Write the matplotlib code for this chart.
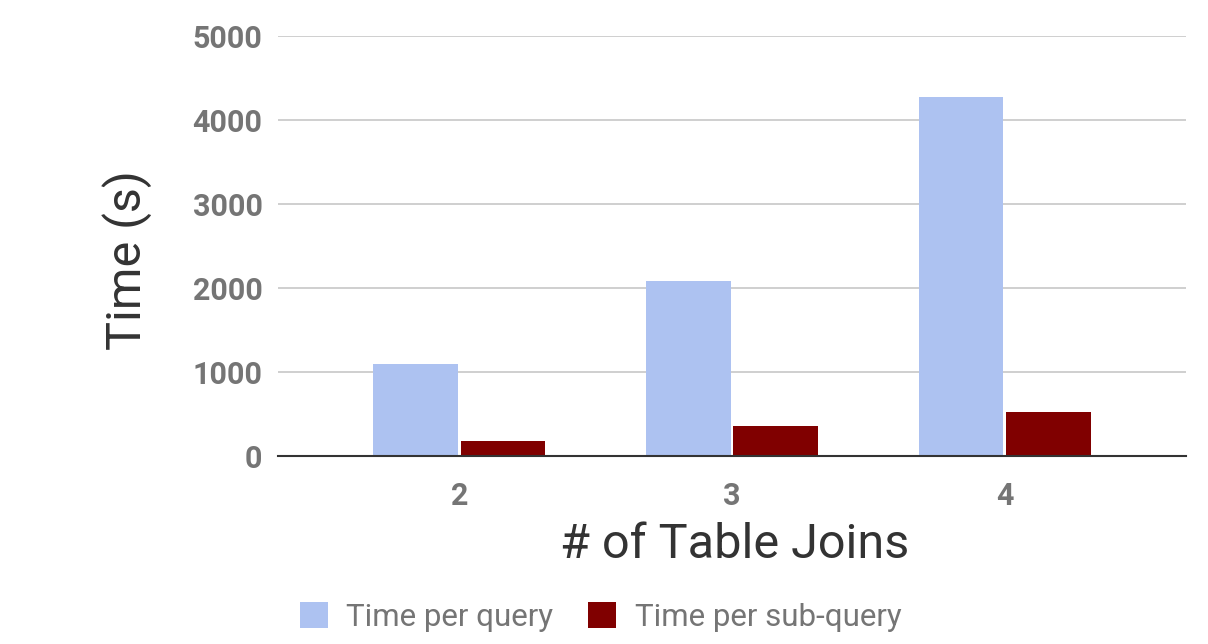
import matplotlib.pyplot as plt
import numpy as np

plt.rcParams['font.family'] = ['Roboto', 'DejaVu Sans']

joins = ['2', '3', '4']
time_per_query = [1095, 2087, 4280]
time_per_subquery = [182, 357, 524]

blue = '#adc2f1'
red = '#800000'
grey = '#757575'

fig = plt.figure(figsize=(12.08, 6.44), dpi=100)
ax = fig.add_axes([0.230, 0.292, 0.752, 0.652])

x = np.arange(len(joins))
w = 0.31
ax.bar(x - w/2 - 0.005, time_per_query, w, color=blue, label='Time per query', zorder=3)
ax.bar(x + w/2 + 0.005, time_per_subquery, w, color=red, label='Time per sub-query', zorder=3)

ax.set_xlim(-0.665, 2.665)
ax.set_ylim(0, 5000)
ax.set_yticks([0, 1000, 2000, 3000, 4000, 5000])
ax.set_xticks(x)
ax.set_xticklabels(joins)

ax.grid(axis='y', color='#cccccc', linewidth=1.3, zorder=0)
for s in ['top', 'right', 'left']:
    ax.spines[s].set_visible(False)
ax.spines['bottom'].set_color('#333333')
ax.spines['bottom'].set_linewidth(1.5)
ax.spines['bottom'].set_zorder(4)

ax.tick_params(axis='y', length=0, pad=11, labelsize=22, labelcolor=grey)
ax.tick_params(axis='x', length=0, pad=18, labelsize=22, labelcolor=grey)
for t in ax.get_xticklabels() + ax.get_yticklabels():
    t.set_fontweight('bold')

ax.set_ylabel('Time (s)', fontsize=35, color='#333333')
ax.yaxis.set_label_coords(-0.166, 0.467)
ax.yaxis.label.set_va('center')
ax.set_xlabel('# of Table Joins', fontsize=35, color='#333333')
ax.xaxis.set_label_coords(0.503, -0.212)
ax.xaxis.label.set_va('center')

leg = fig.legend(loc='center', bbox_to_anchor=(0.497, 0.042), ncol=2, frameon=False,
                 fontsize=22.5, handlelength=0.9, handleheight=0.9, handletextpad=0.6,
                 columnspacing=1.1)
for t in leg.get_texts():
    t.set_color(grey)

fig.savefig('out.png', dpi=100)
